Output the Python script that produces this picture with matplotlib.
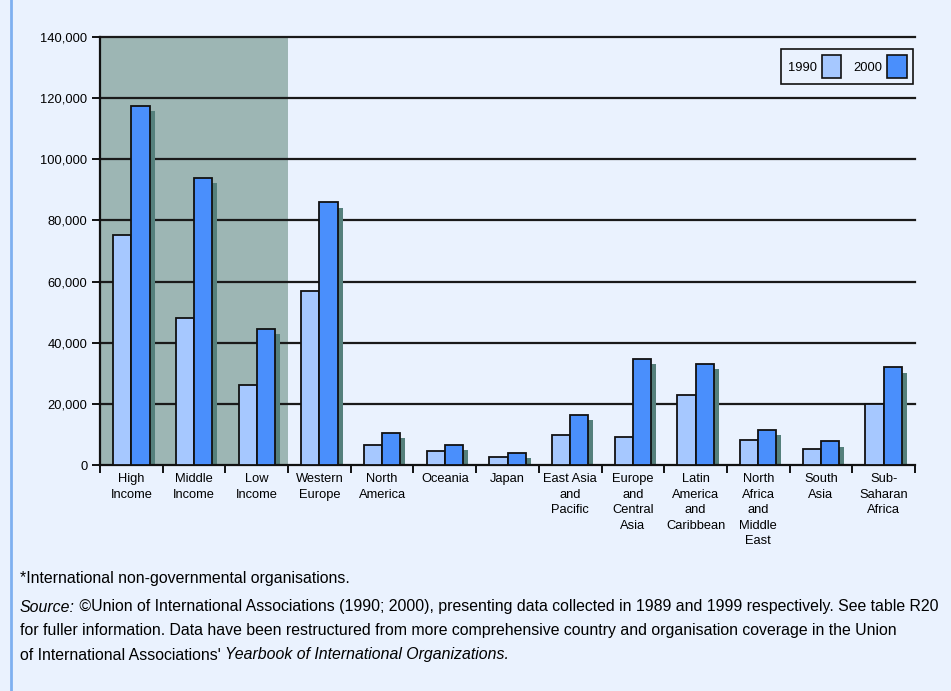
import numpy as np
import matplotlib.pyplot as plt
from matplotlib.patches import Patch
from matplotlib.ticker import FuncFormatter

plt.rcParams['font.family'] = ['Liberation Sans', 'DejaVu Sans']

# number of INGO memberships by region, 1990 and 2000
regions = ["High\nIncome", "Middle\nIncome", "Low\nIncome", "Western\nEurope",
           "North\nAmerica", "Oceania", "Japan", "East Asia\nand\nPacific",
           "Europe\nand\nCentral\nAsia", "Latin\nAmerica\nand\nCaribbean",
           "North\nAfrica\nand\nMiddle\nEast", "South\nAsia", "Sub-\nSaharan\nAfrica"]
y1990 = [75200, 48100, 26200, 57000, 6500, 4600, 2600, 9800, 9000, 22800, 8100, 5100, 20000]
y2000 = [117400, 93900, 44500, 85900, 10400, 6500, 3900, 16400, 34600, 33200, 11500, 7700, 31900]
yticks = [0, 20000, 40000, 60000, 80000, 100000, 120000, 140000]

bg = "#eaf2fe"
light = "#a6c8ff"
dark = "#4a8ffc"
shade = "#9db6b4"
shadow = "#55807c"

fig = plt.figure(figsize=(9.51, 6.91), dpi=100, facecolor=bg)
ax = fig.add_axes([100 / 951, 1 - 465 / 691, 815 / 951, 428 / 691])
ax.set_facecolor(bg)

x = np.arange(len(regions)) + 0.5
w = 0.29

# grey band behind the income groups
ax.axvspan(0, 3, color=shade, zorder=0, lw=0)
for t in yticks[1:]:
    ax.axhline(t, color="#1a1a1a", lw=1.6, zorder=1, clip_on=False)

ax.bar(x + w / 2 + 0.08, np.array(y2000) - 1700, w, color=shadow, zorder=2, lw=0)
ax.bar(x - w / 2, y1990, w, color=light, edgecolor="#111111", lw=1.3, zorder=3)
ax.bar(x + w / 2, y2000, w, color=dark, edgecolor="#111111", lw=1.3, zorder=3)

ax.set_xlim(0, len(regions))
ax.set_ylim(0, 140000)
ax.set_yticks(yticks)
ax.yaxis.set_major_formatter(FuncFormatter(lambda v, p: f"{int(v):,}"))
ax.set_xticks(np.arange(len(regions) + 1))
ax.set_xticklabels([])
ax.set_xticks(x, minor=True)
ax.set_xticklabels(regions, minor=True, fontsize=9.3, linespacing=1.38)
ax.tick_params(axis="x", which="minor", length=0, pad=6)
ax.tick_params(axis="x", which="major", length=6, width=1.3, direction="out")
ax.tick_params(axis="y", length=6, width=1.3, labelsize=9.3, pad=3)
for s in ["top", "right"]:
    ax.spines[s].set_visible(False)
for s in ["left", "bottom"]:
    ax.spines[s].set_linewidth(1.6)
    ax.spines[s].set_color("#111111")

handles = [Patch(facecolor=light, edgecolor="#111111", lw=1.2, label="1990"),
           Patch(facecolor=dark, edgecolor="#111111", lw=1.2, label="2000")]
leg = ax.legend(handles=handles, ncol=2, markerfirst=False, loc="upper right",
                bbox_to_anchor=(0.9975, 0.972), borderaxespad=0, fontsize=9.3,
                frameon=True, fancybox=False, edgecolor="#111111", facecolor=bg,
                framealpha=1, handlelength=1.5, handleheight=2.3, handletextpad=0.4,
                columnspacing=0.9, borderpad=0.5)
leg.get_frame().set_linewidth(1.2)

# left border line of the panel
fig.add_artist(plt.Line2D([11 / 951, 11 / 951], [0, 1], color="#7fb0f0", lw=2,
                          transform=fig.transFigure))

fs = 11.4


def chain(xp, yp, parts):
    fig.canvas.draw()
    r = fig.canvas.get_renderer()
    cx = xp
    for txt, style in parts:
        t = fig.text(cx, yp, txt, fontsize=fs, style=style, va="center")
        bb = t.get_window_extent(renderer=r)
        cx += bb.width / fig.bbox.width


fig.text(20 / 951, 1 - 578 / 691, "*International non-governmental organisations.",
         fontsize=fs, va="center")
chain(20 / 951, 1 - 607 / 691, [("Source:", "italic"),
      (" \u00a9Union of International Associations (1990; 2000), presenting data collected in 1989 and 1999 respectively. See table R20", "normal")])
fig.text(20 / 951, 1 - 631 / 691,
         "for fuller information. Data have been restructured from more comprehensive country and organisation coverage in the Union",
         fontsize=fs, va="center")
chain(20 / 951, 1 - 655 / 691, [("of International Associations' ", "normal"),
      ("Yearbook of International Organizations.", "italic")])

fig.savefig("out.png", dpi=100, facecolor=bg)
